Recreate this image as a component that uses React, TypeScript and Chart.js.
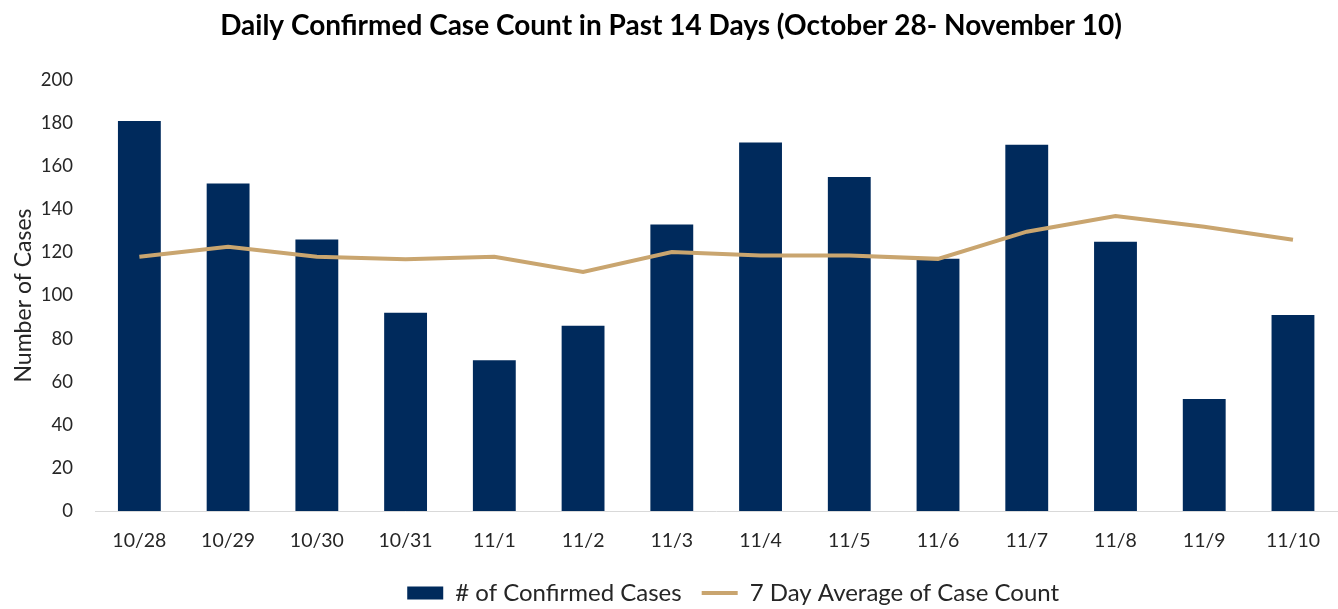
import React, { useEffect, useRef } from "react";
import { Chart, registerables } from "chart.js";

Chart.register(...registerables);

const categories = ["10/28", "10/29", "10/30", "10/31", "11/1", "11/2", "11/3", "11/4", "11/5", "11/6", "11/7", "11/8", "11/9", "11/10"];
const confirmedCases = [181, 152, 126, 92, 70, 86, 133, 171, 155, 117, 170, 125, 52, 91];
const sevenDayAverage = [118, 122.6, 118, 116.8, 118, 110.9, 120.2, 118.6, 118.6, 117, 129.6, 136.9, 131.9, 125.9];
const seriesNames = ["# of Confirmed Cases", "7 Day Average of Case Count"];
const yMin = 0;
const yMax = 200;
const yStep = 20;
const chartTitle = "Daily Confirmed Case Count in Past 14 Days (October 28- November 10)";
const yAxisTitle = "Number of Cases";

const NAVY = "#002A5C";
const TAN = "#C9A56F";
const FONT = "Lato, 'Noto Sans', sans-serif";
const TEXT = "#262626";

const legendShift = {
  id: "legendShift",
  afterLayout(chart: any) {
    const l = chart.legend;
    if (!l) return;
    l.left += 17;
    l.right += 17;
    l.top += 6;
    l.bottom += 6;
  },
};

export default function App() {
  const ref = useRef<HTMLCanvasElement | null>(null);

  useEffect(() => {
    document.body.style.margin = "0";
    const canvas = ref.current;
    if (!canvas) return;
    const chart = new Chart(canvas, {
      type: "bar",
      data: {
        labels: categories,
        datasets: [
          {
            type: "bar",
            label: seriesNames[0],
            data: confirmedCases,
            backgroundColor: NAVY,
            borderWidth: 0,
            categoryPercentage: 1,
            barPercentage: 0.483,
            order: 2,
          },
          {
            type: "line",
            label: seriesNames[1],
            data: sevenDayAverage,
            borderColor: TAN,
            backgroundColor: TAN,
            borderWidth: 4,
            pointRadius: 0,
            tension: 0,
            order: 1,
          },
        ],
      },
      plugins: [legendShift],
      options: {
        animation: false,
        responsive: false,
        maintainAspectRatio: false,
        layout: { padding: { left: 0, right: -4, top: 0, bottom: 0 } },
        plugins: {
          tooltip: { enabled: false },
          title: {
            display: true,
            text: chartTitle,
            color: "#000",
            font: { family: FONT, size: 28, weight: "bold" },
            padding: { top: 9, bottom: 37.4 },
          },
          legend: {
            position: "bottom",
            fullSize: false,
            labels: {
              usePointStyle: true,
              pointStyleWidth: 36,
              boxHeight: 13,
              color: TEXT,
              font: { family: FONT, size: 24 },
              padding: 20,
              sort: (a: any, b: any) => a.datasetIndex - b.datasetIndex,
              generateLabels: (c: any) => {
                const items = Chart.defaults.plugins.legend.labels.generateLabels(c);
                return items.map((it: any) => {
                  if (it.datasetIndex === 0) {
                    it.pointStyle = "rect";
                    it.lineWidth = 0;
                    it.fillStyle = NAVY;
                    it.strokeStyle = NAVY;
                  } else {
                    it.pointStyle = "line";
                    it.lineWidth = 4;
                    it.strokeStyle = TAN;
                    it.fillStyle = TAN;
                  }
                  return it;
                });
              },
            },
          },
        },
        scales: {
          x: {
            afterFit: (scale: any) => {
              scale.height = 44;
            },
            grid: { display: false, drawTicks: false },
            border: { display: true, color: "#D9D9D9", width: 1 },
            ticks: { color: TEXT, font: { family: FONT, size: 19.5 }, padding: 18, maxRotation: 0 },
          },
          y: {
            min: yMin,
            max: yMax,
            afterFit: (scale: any) => {
              scale.width = 95;
            },
            grid: { display: false, drawTicks: false },
            border: { display: false },
            ticks: { stepSize: yStep, color: TEXT, font: { family: FONT, size: 18.5 }, padding: 22 },
            title: {
              display: true,
              text: yAxisTitle,
              color: TEXT,
              font: { family: FONT, size: 23 },
              padding: { top: 10, bottom: 0 },
            },
          },
        },
      },
    });
    return () => chart.destroy();
  }, []);

  return (
    <div style={{ width: 1338, height: 609, background: "#fff" }}>
      <canvas ref={ref} width={1338} height={609} style={{ display: "block" }} />
    </div>
  );
}
